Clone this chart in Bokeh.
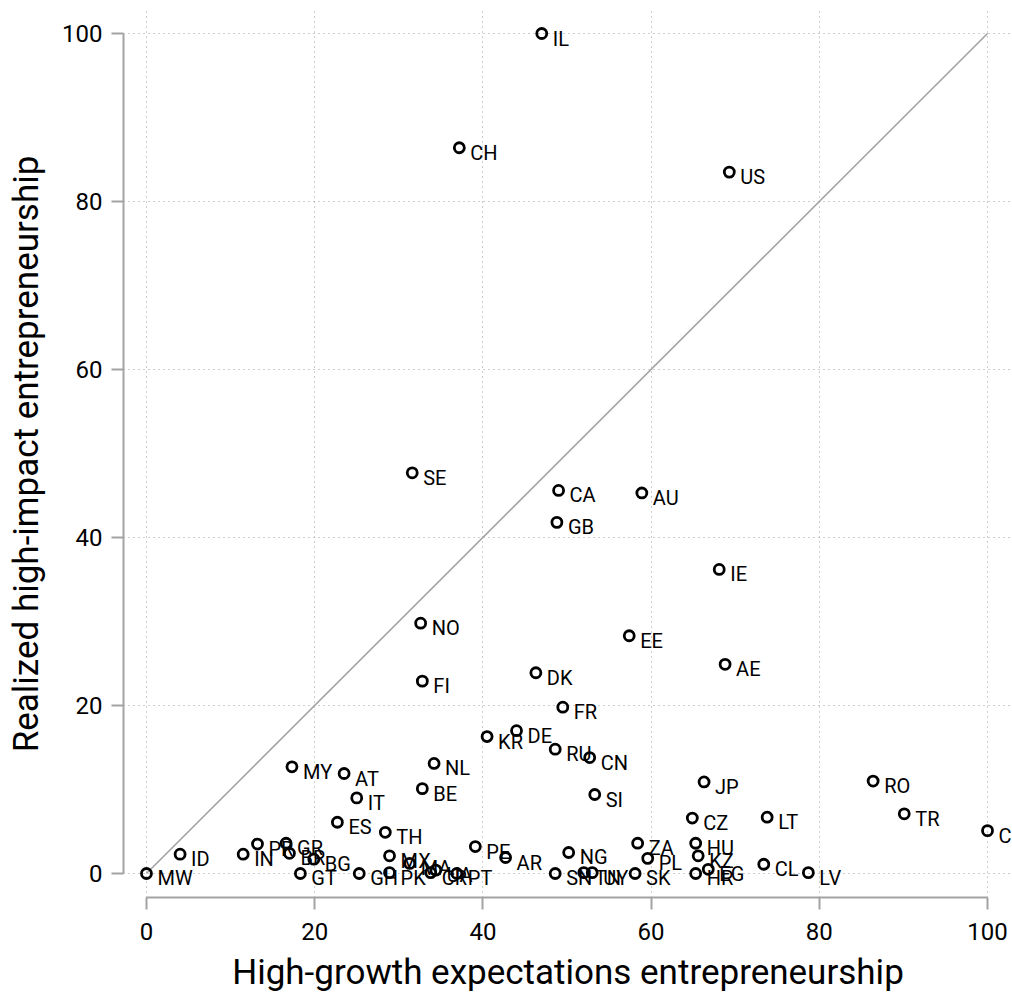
from bokeh.plotting import figure
from bokeh.models import Range1d, FixedTicker, ColumnDataSource
from bokeh.core.properties import value
from bokeh.embed import file_html
from bokeh.resources import INLINE

codes = ["IL", "CH", "US", "SE", "CA", "AU", "GB", "IE", "NO", "EE", "AE", "DK", "FI",
         "FR", "DE", "KR", "RU", "CN", "NL", "MY", "AT", "RO", "JP", "BE", "SI", "IT",
         "TR", "LT", "CZ", "ES", "CO", "TH", "ZA", "HU", "GR", "PR", "PE", "NG", "BR",
         "IN", "ID", "KZ", "MX", "AR", "PL", "BG", "MA", "CL", "EG", "UA", "MW", "GT",
         "GH", "PK", "CR", "PT", "SN", "TN", "UY", "SK", "HR", "LV"]
high_growth = [47.0, 37.2, 69.3, 31.6, 49.0, 58.9, 48.8, 68.1, 32.6, 57.4, 68.8, 46.3, 32.8,
               49.5, 44.0, 40.5, 48.6, 52.7, 34.2, 17.3, 23.5, 86.4, 66.3, 32.8, 53.3, 25.0,
               90.1, 73.8, 64.9, 22.7, 100.0, 28.4, 58.4, 65.3, 16.6, 13.2, 39.1, 50.2, 17.0,
               11.5, 4.0, 65.6, 28.9, 42.7, 59.6, 19.9, 31.3, 73.4, 66.8, 34.4, 0.0, 18.3,
               25.3, 28.9, 33.8, 36.9, 48.6, 52.0, 53.0, 58.1, 65.3, 78.7]
realized = [100.0, 86.4, 83.5, 47.7, 45.6, 45.3, 41.8, 36.2, 29.8, 28.3, 24.9, 23.9, 22.9,
            19.8, 17.0, 16.3, 14.8, 13.8, 13.1, 12.7, 11.9, 11.0, 10.9, 10.1, 9.4, 9.0,
            7.1, 6.7, 6.6, 6.1, 5.1, 4.9, 3.6, 3.6, 3.6, 3.5, 3.2, 2.5, 2.4,
            2.3, 2.3, 2.1, 2.1, 1.9, 1.8, 1.7, 1.2, 1.1, 0.5, 0.4, 0.0, 0.0,
            0.0, 0.1, 0.1, 0.0, 0.0, 0.1, 0.1, 0.0, 0.0, 0.1]
diag = [0, 100]
ticks = [0, 20, 40, 60, 80, 100]

FONT = "Roboto"
GREY = "#a3a3a3"

src = ColumnDataSource(dict(x=high_growth, y=realized, code=codes))

p = figure(width=1012, height=1001,
           x_range=Range1d(-2.73, 102.97), y_range=Range1d(-2.86, 102.74),
           output_backend="svg", toolbar_location=None,
           min_border_left=123, min_border_right=0, min_border_top=10, min_border_bottom=104,
           x_axis_label="High-growth expectations entrepreneurship",
           y_axis_label="Realized high-impact entrepreneurship")
p.outline_line_color = None
p.background_fill_color = "white"
p.border_fill_color = "white"

for ax in (p.xaxis[0], p.yaxis[0]):
    ax.ticker = FixedTicker(ticks=ticks)
    ax.bounds = (0, 100)
    ax.axis_line_color = GREY
    ax.axis_line_width = 2
    ax.major_tick_line_color = GREY
    ax.major_tick_line_width = 2
    ax.major_tick_out = 12
    ax.major_tick_in = 0
    ax.minor_tick_line_color = None
    ax.major_label_text_font = FONT
    ax.major_label_text_font_size = "24px"
    ax.major_label_text_color = "black"
    ax.axis_label_text_font = FONT
    ax.axis_label_text_font_size = "35px"
    ax.axis_label_text_font_style = "normal"
    ax.axis_label_text_color = "black"

p.xaxis[0].major_label_standoff = 13
p.xaxis[0].axis_label_standoff = 9
p.yaxis[0].major_label_standoff = 9
p.yaxis[0].axis_label_standoff = 12

for g in (p.xgrid[0], p.ygrid[0]):
    g.grid_line_color = "#9c9c9c"
    g.grid_line_dash = "1 4"
    g.grid_line_width = 1

p.line(diag, diag, line_color=GREY, line_width=1.6)
p.scatter("x", "y", source=src, marker="circle", size=10, fill_color=None,
          line_color="black", line_width=2.8)
p.text("x", "y", text="code", source=src, x_offset=11, y_offset=5,
       text_baseline="middle", text_align="left", text_font=value(FONT),
       text_font_size="20px", text_color="black")

open("out.html", "w").write(file_html(p, INLINE))
